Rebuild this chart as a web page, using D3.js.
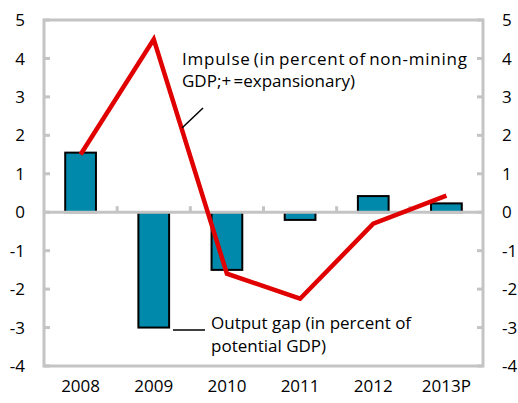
<!DOCTYPE html>
<html><head><meta charset="utf-8">
<script src="https://cdn.jsdelivr.net/npm/d3@7"></script>
<style>body{margin:0;background:#fff}text{font-family:"Open Sans","Noto Sans",sans-serif;fill:#000}</style>
</head><body><svg id="c" width="518" height="403"></svg>
<script>
const categories = ["2008","2009","2010","2011","2012","2013P"];
const outputGap = [1.55, -3.0, -1.5, -0.2, 0.42, 0.23];
const impulse = [1.5, 4.5, -1.6, -2.25, -0.3, 0.43];
const yTicks = [5,4,3,2,1,0,-1,-2,-3,-4];

const svg = d3.select("#c");
const L = 44, R = 483, T = 20, B = 366;
const x = d3.scaleBand().domain(categories).range([L, R]).paddingInner(0.58).paddingOuter(0.29);
const xb = d3.scaleBand().domain(categories).range([L, R]);
const y = d3.scaleLinear().domain([-4, 5]).range([B, T]);
const gray = "#c4c4c4";

// frame
svg.append("rect").attr("x", L).attr("y", T).attr("width", R - L).attr("height", B - T)
  .attr("fill", "none").attr("stroke", gray).attr("stroke-width", 3);

// y ticks inside
const lt = svg.append("g");
lt.selectAll("line.l").data(yTicks).join("line").attr("x1", L).attr("x2", L + 6)
  .attr("y1", d => y(d)).attr("y2", d => y(d)).attr("stroke", gray).attr("stroke-width", 3);
lt.selectAll("line.r").data(yTicks).join("line").attr("x1", R - 6).attr("x2", R)
  .attr("y1", d => y(d)).attr("y2", d => y(d)).attr("stroke", gray).attr("stroke-width", 3);

// labels
svg.append("g").selectAll("text").data(yTicks).join("text")
  .attr("x", 25).attr("y", d => y(d)).attr("dy", "0.36em").attr("text-anchor", "end")
  .attr("font-size", 17).text(d => d);
svg.append("g").selectAll("text").data(yTicks).join("text")
  .attr("x", 502).attr("y", d => y(d)).attr("dy", "0.36em").attr("text-anchor", "start")
  .attr("font-size", 17).text(d => d);
svg.append("g").selectAll("text").data(categories).join("text")
  .attr("x", d => xb(d) + xb.bandwidth() / 2).attr("y", 392).attr("text-anchor", "middle")
  .attr("font-size", 17).text(d => d);

// bars
svg.append("g").selectAll("rect").data(outputGap).join("rect")
  .attr("x", (d, i) => x(categories[i]))
  .attr("width", x.bandwidth())
  .attr("y", d => Math.min(y(d), y(0)))
  .attr("height", d => Math.abs(y(d) - y(0)))
  .attr("fill", "#0089ab").attr("stroke", "#000").attr("stroke-width", 2);

// zero line + category ticks
svg.append("line").attr("x1", L).attr("x2", R).attr("y1", y(0)).attr("y2", y(0))
  .attr("stroke", gray).attr("stroke-width", 3);
svg.append("g").selectAll("line").data(categories.slice(1)).join("line")
  .attr("x1", d => xb(d)).attr("x2", d => xb(d)).attr("y1", y(0)).attr("y2", y(0) - 6)
  .attr("stroke", gray).attr("stroke-width", 3);

// impulse line
const line = d3.line().x((d, i) => xb(categories[i]) + xb.bandwidth() / 2).y(d => y(d));
svg.append("path").datum(impulse).attr("d", line).attr("fill", "none")
  .attr("stroke", "#e00000").attr("stroke-width", 4.5).attr("stroke-linejoin", "miter");

// annotations
const a1 = svg.append("text").attr("font-size", 17).attr("word-spacing", -2);
a1.append("tspan").attr("x", 182).attr("y", 65).attr("textLength", 285).attr("lengthAdjust", "spacing")
  .text("Impulse (in percent of non-mining");
a1.append("tspan").attr("x", 182).attr("y", 87).text("GDP;+ =expansionary)");
svg.append("line").attr("x1", 203).attr("y1", 108).attr("x2", 182).attr("y2", 128)
  .attr("stroke", "#000").attr("stroke-width", 1.5);

const a2 = svg.append("text").attr("font-size", 17);
a2.append("tspan").attr("x", 211).attr("y", 329).text("Output gap (in percent of");
a2.append("tspan").attr("x", 211).attr("y", 352).text("potential GDP)");
svg.append("line").attr("x1", 173).attr("y1", 330).attr("x2", 205).attr("y2", 330)
  .attr("stroke", "#000").attr("stroke-width", 1.5);
</script></body></html>
